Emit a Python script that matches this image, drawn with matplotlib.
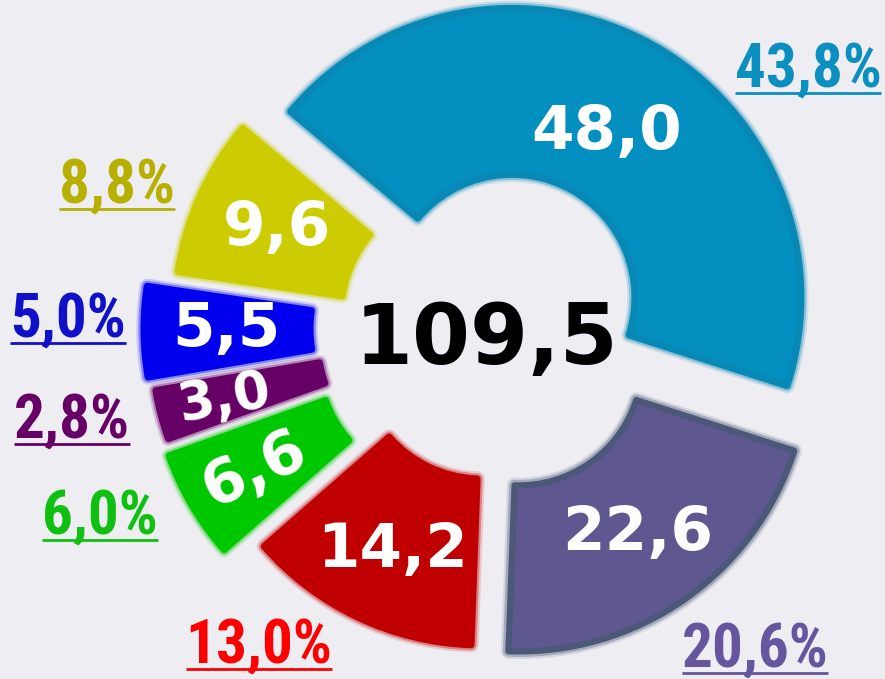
import matplotlib
matplotlib.use('Agg')
import matplotlib.pyplot as plt
import matplotlib.patheffects as pe
from matplotlib import font_manager as fm

W, H = 885, 679

# ---- data ----
values = [48.0, 22.6, 14.2, 6.6, 3.0, 5.5, 9.6]
value_labels = ['48,0', '22,6', '14,2', '6,6', '3,0', '5,5', '9,6']
pct_labels = ['43,8%', '20,6%', '13,0%', '6,0%', '2,8%', '5,0%', '8,8%']
total_label = '109,5'

# ---- styles / positions ----
colors = ['#038fc0', '#5f578f', '#c00000', '#00c800', '#660066', '#0000ee', '#cccc00']
edge_colors = ['#0788b5', '#4b5878', '#c00000', '#00c800', '#660066', '#0000ee', '#cccc00']
pct_colors = ['#0a8fc0', '#6656a0', '#ff0000', '#10c010', '#660066', '#1010c8', '#b8b000']
explode_px = [35, 42, 31, 62, 56, 62, 34]
R_out, R_in = 289, 123
cx, cy = 495, 328  # pixel coords (y down)

# value label positions (x, y-pixel, rotation, fontsize)
val_pos = [(607, 149, 0, 44), (638, 550, 0, 44), (393, 567, 0, 44),
           (255, 470, 25, 44), (224, 398, 10, 38), (226, 346, 0, 44), (277, 245, 0, 44)]
pct_pos = [(808, 87), (755, 667), (259, 663), (100, 534), (72, 438), (68, 337), (117, 203)]

avail = {f.name for f in fm.fontManager.ttflist}
narrow = None
for cand in ['Liberation Sans Narrow', 'DejaVu Sans Condensed', 'Roboto Condensed', 'Open Sans Condensed']:
    if cand in avail:
        narrow = cand
        break
if narrow is None:
    narrow = 'DejaVu Sans'

fig = plt.figure(figsize=(W / 100, H / 100), dpi=100)
fig.patch.set_facecolor('#eeedf2')
ax = fig.add_axes([0, 0, 1, 1])
ax.set_facecolor('#eeedf2')

wedges, _ = ax.pie(values, colors=colors, startangle=140, counterclock=False,
                   radius=R_out, center=(cx, H - cy),
                   explode=explode_px,
                   wedgeprops=dict(width=R_out - R_in, linewidth=5, joinstyle='round'),
                   frame=True)
for i, w in enumerate(wedges):
    w.set_edgecolor(edge_colors[i])
    w.set_linewidth(4.5 if i == 1 else 5)
    ec = edge_colors[i]
    w.set_path_effects([pe.Stroke(linewidth=11, foreground=ec, alpha=0.15),
                        pe.Stroke(linewidth=8, foreground=ec, alpha=0.35),
                        pe.Normal()])

ax.set_xlim(0, W)
ax.set_ylim(0, H)
ax.set_aspect('auto')
ax.axis('off')

for (x, y, rot, fs), lab in zip(val_pos, value_labels):
    if rot:
        ax.text(x, H - y, lab, color='white', fontsize=fs, fontweight='bold',
                ha='center', va='center', rotation=rot, rotation_mode='anchor',
                family='DejaVu Sans')
    else:
        ax.text(x, H - y, lab, color='white', fontsize=fs, fontweight='bold',
                ha='center', va='baseline', family='DejaVu Sans')

ax.text(487, H - 364, total_label, color='black', fontsize=60, fontweight='bold',
        ha='center', va='baseline', family='DejaVu Sans')

pct_texts = []
for (x, y), lab, c in zip(pct_pos, pct_labels, pct_colors):
    t = ax.text(x, H - y, lab, color=c, fontsize=44, fontweight='bold',
                ha='center', va='baseline', family=[narrow, 'DejaVu Sans'])
    pct_texts.append((t, y, c))

fig.canvas.draw()
renderer = fig.canvas.get_renderer()
for t, y, c in pct_texts:
    bb = t.get_window_extent(renderer)
    ax.plot([bb.x0, bb.x1], [H - y - 6, H - y - 6], color=c, linewidth=2.0, solid_capstyle='butt')

fig.savefig('out.png', dpi=100, facecolor=fig.get_facecolor())
